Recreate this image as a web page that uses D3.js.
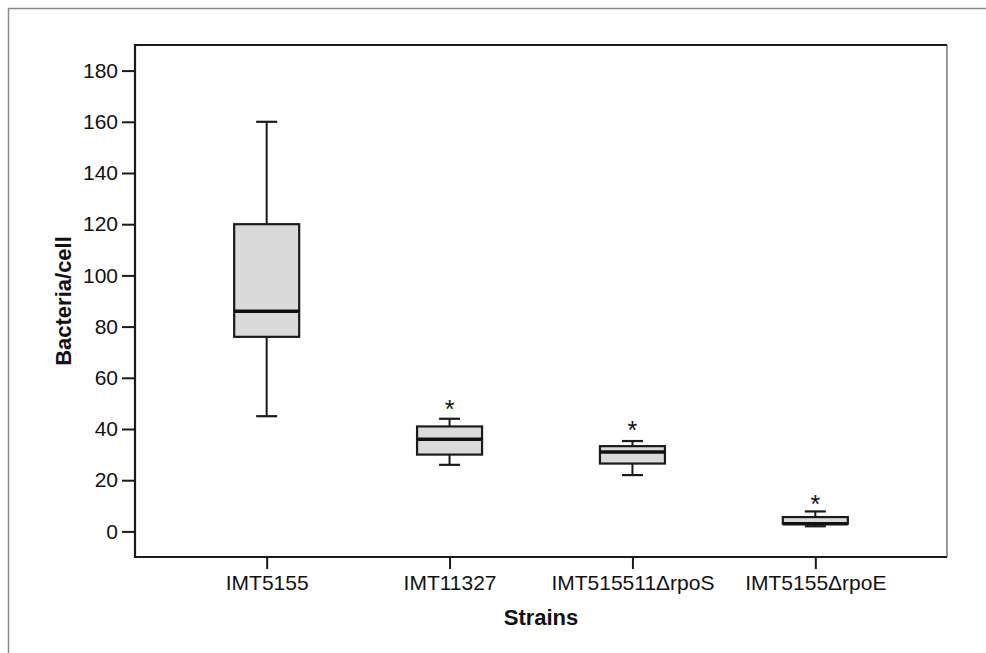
<html>
<head>
	<script src="https://d3js.org/d3.v7.min.js"></script>
	<style>
		body { margin: 0; background: #fff; }
		text { font-family: "Liberation Sans", Arial, sans-serif; fill: #111; }
	</style>
</head>
<body>
	<script>
		var strains = ["IMT5155", "IMT11327", "IMT515511\u0394rpoS", "IMT5155\u0394rpoE"];
		var whiskerLow = [45, 26, 22, 2];
		var q1 = [76, 30, 26.5, 3];
		var median = [86, 36, 31, 3];
		var q3 = [120, 41, 33.3, 5.6];
		var whiskerHigh = [160, 44, 35.3, 7.8];
		var extremes = [null, 50, 42, 13];
		var yTicks = [0, 20, 40, 60, 80, 100, 120, 140, 160, 180];

		var W = 986, H = 653;
		var margin = {top: 45, right: 39, bottom: 96, left: 135};

		var boxes = strains.map(function(s, i){
			return {name: s, lo: whiskerLow[i], q1: q1[i], med: median[i], q3: q3[i], hi: whiskerHigh[i], ext: extremes[i]};
		});

		var svg = d3.select("body").append("svg")
			.attr("width", W)
			.attr("height", H);

		// outer frame
		svg.append("rect")
			.attr("x", 8.5).attr("y", 8.5)
			.attr("width", W).attr("height", H)
			.attr("fill", "none")
			.attr("stroke", "#8a8a8a")
			.attr("stroke-width", 1.5);

		var x = d3.scalePoint()
			.domain(strains)
			.range([margin.left, W - margin.right])
			.padding(0.72);

		var y = d3.scaleLinear()
			.domain([-10, 190])
			.range([H - margin.bottom, margin.top]);

		var bw = 65, cap = 21;

		// plot frame
		svg.append("line")
			.attr("x1", W - margin.right).attr("x2", W - margin.right)
			.attr("y1", margin.top).attr("y2", H - margin.bottom)
			.attr("stroke", "#9a9a9a").attr("stroke-width", 2);
		svg.append("line")
			.attr("x1", margin.left).attr("x2", W - margin.right)
			.attr("y1", margin.top).attr("y2", margin.top)
			.attr("stroke", "#1a1a1a").attr("stroke-width", 2);

		var yAxis = svg.append("g")
			.attr("transform", "translate(" + margin.left + ",0)")
			.call(d3.axisLeft(y).tickValues(yTicks).tickSize(13).tickPadding(4).tickSizeOuter(0));
		var xAxis = svg.append("g")
			.attr("transform", "translate(0," + (H - margin.bottom) + ")")
			.call(d3.axisBottom(x).tickSize(12).tickPadding(6).tickSizeOuter(0));

		[yAxis, xAxis].forEach(function(a){
			a.selectAll("path, line").attr("stroke", "#1a1a1a").attr("stroke-width", 2);
			a.selectAll("text").style("font-size", "21px").attr("fill", "#111");
			a.select(".domain").remove();
		});
		svg.append("line")
			.attr("x1", margin.left).attr("x2", margin.left)
			.attr("y1", margin.top - 1).attr("y2", H - margin.bottom + 1)
			.attr("stroke", "#1a1a1a").attr("stroke-width", 2.2);
		svg.append("line")
			.attr("x1", margin.left).attr("x2", W - margin.right)
			.attr("y1", H - margin.bottom).attr("y2", H - margin.bottom)
			.attr("stroke", "#1a1a1a").attr("stroke-width", 2.2);

		var g = svg.append("g").selectAll(".box")
			.data(boxes)
			.enter().append("g")
			.attr("class", "box");

		g.append("line")
			.attr("x1", function(d){ return x(d.name); })
			.attr("x2", function(d){ return x(d.name); })
			.attr("y1", function(d){ return y(d.hi); })
			.attr("y2", function(d){ return y(d.lo); })
			.attr("stroke", "#1a1a1a").attr("stroke-width", 2);
		g.selectAll(".cap")
			.data(function(d){ return [{n: d.name, v: d.hi}, {n: d.name, v: d.lo}]; })
			.enter().append("line")
			.attr("class", "cap")
			.attr("x1", function(d){ return x(d.n) - cap / 2; })
			.attr("x2", function(d){ return x(d.n) + cap / 2; })
			.attr("y1", function(d){ return y(d.v); })
			.attr("y2", function(d){ return y(d.v); })
			.attr("stroke", "#1a1a1a").attr("stroke-width", 2.2);
		g.append("rect")
			.attr("x", function(d){ return x(d.name) - bw / 2; })
			.attr("width", bw)
			.attr("y", function(d){ return y(d.q3); })
			.attr("height", function(d){ return y(d.q1) - y(d.q3); })
			.attr("fill", "#dadada")
			.attr("stroke", "#1a1a1a").attr("stroke-width", 2.2);
		g.append("line")
			.attr("x1", function(d){ return x(d.name) - bw / 2; })
			.attr("x2", function(d){ return x(d.name) + bw / 2; })
			.attr("y1", function(d){ return y(d.med); })
			.attr("y2", function(d){ return y(d.med); })
			.attr("stroke", "#111").attr("stroke-width", 3.6);

		// extreme values
		g.filter(function(d){ return d.ext != null; })
			.append("text")
			.attr("x", function(d){ return x(d.name); })
			.attr("y", function(d){ return y(d.ext); })
			.attr("dy", "0.6em")
			.attr("text-anchor", "middle")
			.style("font-size", "25px")
			.text("*");

		svg.append("text")
			.attr("transform", "translate(63," + ((margin.top + H - margin.bottom) / 2) + ") rotate(-90)")
			.attr("dy", "0.36em")
			.attr("text-anchor", "middle")
			.style("font-size", "22px")
			.style("font-weight", "bold")
			.text("Bacteria/cell");

		svg.append("text")
			.attr("x", (margin.left + W - margin.right) / 2)
			.attr("y", 625)
			.attr("text-anchor", "middle")
			.style("font-size", "22px")
			.style("font-weight", "bold")
			.text("Strains");
	</script>
</body>
</html>
